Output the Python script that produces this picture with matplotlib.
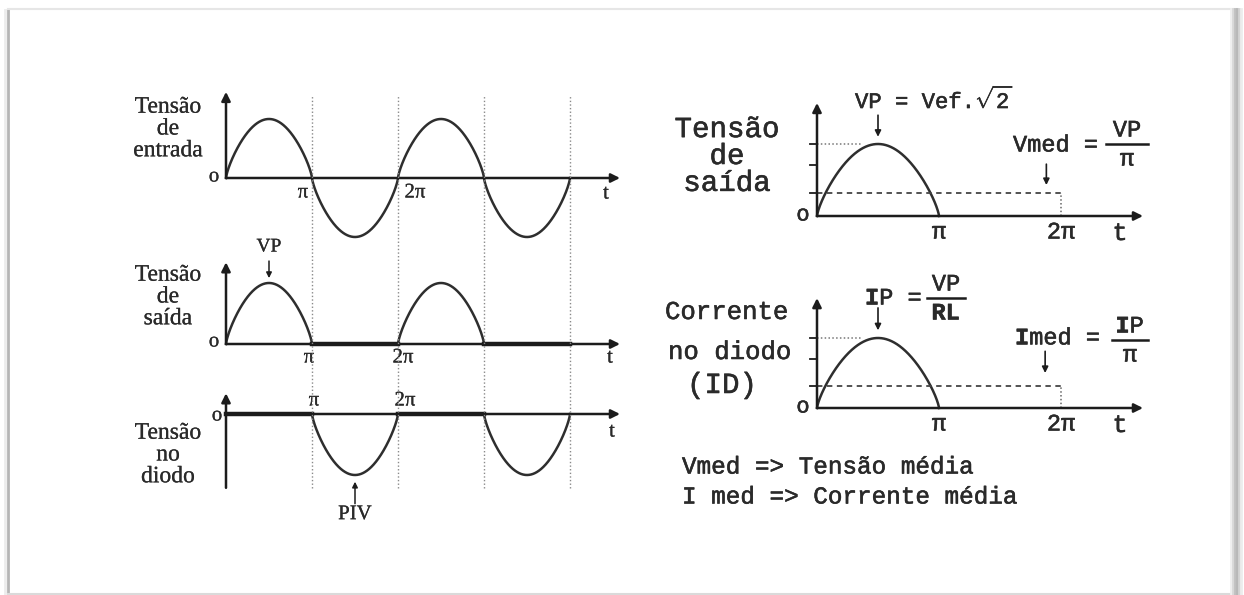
import numpy as np
import matplotlib.pyplot as plt
import matplotlib.patheffects as pe

plt.rcParams['font.family'] = ['Liberation Serif', 'DejaVu Serif']
plt.rcParams['mathtext.fontset'] = 'custom'
plt.rcParams['mathtext.rm'] = 'Liberation Mono'
plt.rcParams['mathtext.bf'] = 'Liberation Mono:bold'

W, H = 1244, 595

# half-wave rectifier quantities, normalised to the peak voltage
vp = 1.0
vef = vp / np.sqrt(2)
vmed = vp / np.pi
guide_t = [np.pi, 2 * np.pi, 3 * np.pi, 4 * np.pi]
tick_t = [np.pi, 2 * np.pi]
tick_labels = ['π', '2π']
pos_half = [(0, np.pi), (2 * np.pi, 3 * np.pi)]
neg_half = [(np.pi, 2 * np.pi), (3 * np.pi, 4 * np.pi)]
level_ticks = [vmed, vef, vp]
left_titles = ['Tensão\nde\nentrada', 'Tensão\nde\nsaída', 'Tensão\nno\ndiodo']
notes = ['Vmed => Tensão média', 'I med => Corrente média']

INK = '#1c1c1c'
TXT = '#2a2a2a'
WAVE = '#2e2e2e'
SERIF = ['Liberation Serif', 'DejaVu Serif']
MONO = ['Liberation Mono', 'DejaVu Sans Mono']
# the monospaced lettering gets a slightly heavier stroke
HEAVY = [pe.withStroke(linewidth=0.4, foreground=TXT)]
SERIF_PE = [pe.withStroke(linewidth=0.15, foreground=TXT)]

fig = plt.figure(figsize=(W / 100, H / 100), dpi=100)

# page frame, in pixel units
bg = fig.add_axes([0, 0, 1, 1])
bg.set_xlim(0, W)
bg.set_ylim(H, 0)
bg.axis('off')
bg.plot([5, 5], [10, H], color='#ececec', lw=2)
bg.plot([8, 8], [10, H], color='#b5b5b5', lw=2)
bg.plot([8, 1237], [9, 9], color='#e6e6e6', lw=1.5)
bg.plot([8, 1237], [594, 594], color='#dadada', lw=1.5)
for x, c in [(1231, '#efefef'), (1233, '#d8d8d8'), (1235, '#c0c0c0'),
             (1237, '#b8b8b8'), (1239, '#d4d4d4'), (1241, '#ececec')]:
    bg.plot([x, x], [9, H], color=c, lw=2)


def panel(x0, y0, sx, sy):
    # axes whose origin sits at pixel (x0, y0); sx px per radian, sy px per unit
    ax = fig.add_axes([x0 / W, 1 - y0 / H, 100 / W, sy / H])
    ax.set_xlim(0, 100 / sx)
    ax.set_ylim(0, 1)
    ax.axis('off')
    ax.sx, ax.sy = sx, sy
    return ax


def arrow(ax, x0, y0, x1, y1, lw=1.8, ms=13):
    ax.annotate('', xy=(x1, y1), xytext=(x0, y0), annotation_clip=False,
                arrowprops=dict(arrowstyle='-|>', color=INK, lw=lw,
                                mutation_scale=ms, shrinkA=0, shrinkB=0))


def label(ax, text, x, y, dx, dy, size, family=SERIF, **kw):
    effects = HEAVY if family is MONO else SERIF_PE
    ax.annotate(text, xy=(x, y), xytext=(dx, dy), textcoords='offset pixels',
                ha='center', va='center', fontsize=size, family=family,
                color=TXT, annotation_clip=False, path_effects=effects, **kw)


def write(x, y, text, size, family=MONO, ha='center', **kw):
    effects = HEAVY if family is MONO else SERIF_PE
    bg.text(x, y, text, ha=ha, va='center', fontsize=size, family=family,
            color=TXT, path_effects=effects, **kw)


def shape(t):
    s = np.sin(t)
    return np.sign(s) * np.abs(s) ** 0.75


sxl = 86 / np.pi
sxr = 122 / np.pi
t_full = np.linspace(0, 4 * np.pi, 1601)

# ---- left column -----------------------------------------------------
a1 = panel(226, 178, sxl, 59)
a2 = panel(226, 344, sxl, 61)
a3 = panel(226, 414, sxl, 61)
t_end = 394 / sxl

guides = fig.add_axes([226 / W, 1 - 488 / H, 100 / W, (488 - 95) / H])
guides.set_xlim(0, 100 / sxl)
guides.set_ylim(0, 1)
guides.axis('off')
guides.vlines(guide_t, 0, 1, colors='#8a8a8a', lw=1, linestyles=(0, (1, 1.6)),
              clip_on=False)

# input voltage
arrow(a1, 0, 0, 0, 1.46)
arrow(a1, 0, 0, t_end, 0)
a1.plot(t_full, vp * shape(t_full), color=WAVE, lw=1.8, clip_on=False)
label(a1, 'o', 0, 0, -12, 1, 15)
label(a1, tick_labels[0], tick_t[0], 0, -9, -15, 15)
label(a1, tick_labels[1], tick_t[1], 0, 17, -15, 15)
label(a1, 't', t_end, 0, -14, -16, 15)

# output voltage
arrow(a2, 0, 0, 0, 1.34)
arrow(a2, 0, 0, t_end, 0)
for lo, hi in pos_half:
    t = np.linspace(lo, hi, 400)
    a2.plot(t, vp * shape(t), color=WAVE, lw=1.8, clip_on=False)
for lo, hi in neg_half:
    a2.plot([lo, hi], [0, 0], color=INK, lw=3.2, clip_on=False)
label(a2, 'o', 0, 0, -12, 2, 15)
label(a2, tick_labels[0], tick_t[0], 0, -3, -14, 15)
label(a2, tick_labels[1], tick_t[1], 0, 5, -14, 15)
label(a2, 't', t_end, 0, -10, -14, 15)
arrow(a2, np.pi / 2, 1.36, np.pi / 2, 1.08, lw=1.1, ms=8)
label(a2, 'VP', np.pi / 2, 1.36, 0, 14, 14)

# diode voltage
arrow(a3, 0, -1.21, 0, 0.34)
arrow(a3, 0, 0, t_end, 0)
for lo, hi in neg_half:
    t = np.linspace(lo, hi, 400)
    a3.plot(t, vp * shape(t), color=WAVE, lw=1.8, clip_on=False)
for lo, hi in pos_half:
    a3.plot([lo, hi], [0, 0], color=INK, lw=3.2, clip_on=False)
label(a3, 'o', 0, 0, -9, -2, 15)
label(a3, tick_labels[0], tick_t[0], 0, 2, 13, 15)
label(a3, tick_labels[1], tick_t[1], 0, 7, 13, 15)
label(a3, 't', t_end, 0, -8, -18, 15)
arrow(a3, 1.5 * np.pi, -1.47, 1.5 * np.pi, -1.11, lw=1.1, ms=8)
label(a3, 'PIV', 1.5 * np.pi, -1.47, 0, -11, 15)

for title, y in zip(left_titles, [129, 297, 455]):
    write(168, y, title, 17, family=SERIF, linespacing=1.05)

# ---- right column ----------------------------------------------------
r1 = panel(817, 216, sxr, 72)
r2 = panel(817, 408, sxr, 70)
t_end_r = 326 / sxr
t_half = np.linspace(0, np.pi, 500)

for ax in (r1, r2):
    arrow(ax, 0, 0, 0, 1.57)
    arrow(ax, 0, 0, t_end_r, 0)
    ax.plot(t_half, vp * shape(t_half), color=WAVE, lw=1.8, clip_on=False)
    tick_len = 7 / ax.sx
    for lv in level_ticks:
        ax.plot([-tick_len, 0], [lv, lv], color=INK, lw=1.3, clip_on=False)
    ax.plot([0, 0.36 * np.pi], [vp, vp], color='#777777', lw=1.1,
            linestyle=(0, (1, 1.5)), clip_on=False)
    ax.plot([0, 2 * np.pi], [vmed, vmed], color='#444444', lw=1.3,
            linestyle=(0, (3, 2.5)), clip_on=False)
    ax.plot([2 * np.pi, 2 * np.pi], [0, vmed], color='#666666', lw=1.1,
            linestyle=(0, (1, 1.5)), clip_on=False)
    label(ax, 'o', 0, 0, -14, 1, 16, family=MONO)
    for tk, tl in zip(tick_t, tick_labels):
        label(ax, tl, tk, 0, 0, -16, 17, family=MONO)
    label(ax, 't', t_end_r, 0, -23, -17, 18, family=MONO)

arrow(r1, np.pi / 2, 1.4, np.pi / 2, 1.1, lw=1.2, ms=9)
arrow(r1, 1.88 * np.pi, 0.72, 1.88 * np.pi, 0.43, lw=1.2, ms=9)
arrow(r2, np.pi / 2, 1.43, np.pi / 2, 1.11, lw=1.2, ms=9)
arrow(r2, 1.87 * np.pi, 0.81, 1.87 * np.pi, 0.5, lw=1.2, ms=9)

write(727, 156, 'Tensão\nde\nsaída', 21, linespacing=0.95)
write(727, 312, 'Corrente', 18.5)
write(730, 352, 'no diodo', 18.5)
write(722, 385, '(ID)', 21)
write(855, 100, r'VP = Vef.$\sqrt{2}$', 16, ha='left')


def frac(xc, y, num, den, width, size=17):
    write(xc, y - 14, num, size)
    bg.plot([xc - width / 2, xc + width / 2], [y, y], color=INK, lw=1.8)
    write(xc, y + 15, den, size)


write(1013, 145, 'Vmed =', 17, ha='left')
frac(1127, 144, 'VP', 'π', 42)
write(865, 298, r'$\mathbf{I}$P =', 17, ha='left')
frac(946, 298, 'VP', r'$\mathbf{RL}$', 38)
write(1015, 338, r'$\mathbf{I}$med =', 17, ha='left')
frac(1130, 340, r'$\mathbf{I}$P', 'π', 36)

for note, y in zip(notes, [467, 497]):
    write(682, y, note, 17.5, ha='left')

fig.savefig('out.png', dpi=100)
